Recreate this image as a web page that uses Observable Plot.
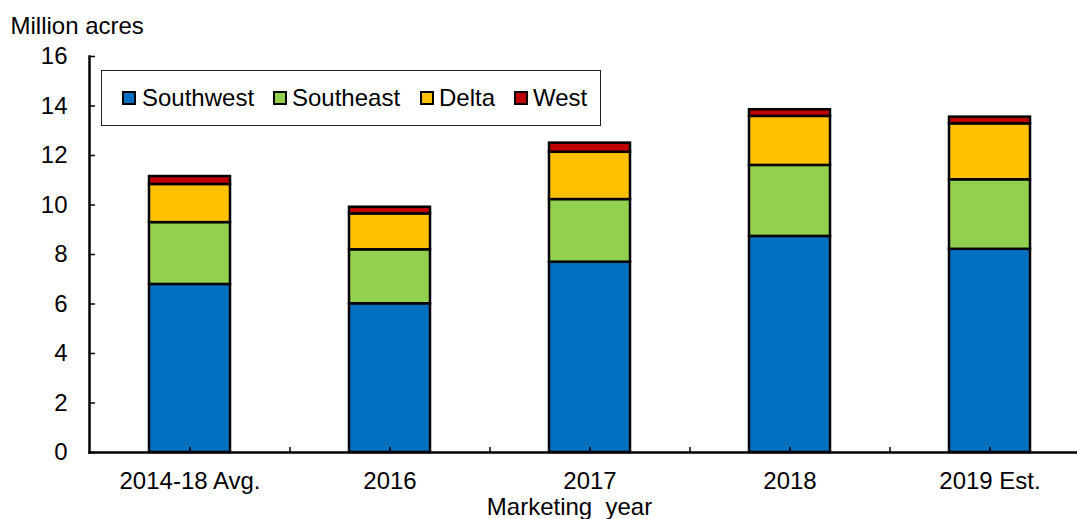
<!DOCTYPE html>
<html>
<head>
<meta charset="utf-8">
<script src="https://cdn.jsdelivr.net/npm/d3@7"></script>
<script src="https://cdn.jsdelivr.net/npm/@observablehq/plot@0.6"></script>
<style>
  html, body { margin: 0; padding: 0; background: white; }
  #chart { width: 1077px; height: 519px; overflow: hidden; }
</style>
</head>
<body>
<div id="chart"></div>
<script>
// ---- Data (million acres) ----
const years = ["2014-18 Avg.", "2016", "2017", "2018", "2019 Est."];
const regions = ["Southwest", "Southeast", "Delta", "West"];
const southwest = [6.79, 6.01, 7.69, 8.73, 8.21];
const southeast = [2.50, 2.18, 2.53, 2.87, 2.81];
const delta = [1.54, 1.45, 1.91, 1.98, 2.26];
const west = [0.32, 0.27, 0.37, 0.27, 0.27];
const yTicks = [0, 2, 4, 6, 8, 10, 12, 14, 16];
const colors = ["#0070C0", "#92D050", "#FFC000", "#C00000"];
const yTitle = "Million acres";
const xTitle = "Marketing  year";

const series = [southwest, southeast, delta, west];
const data = [];
years.forEach((yr, i) => {
  regions.forEach((r, j) => data.push({year: yr, region: r, value: series[j][i]}));
});

const FONT = "'Liberation Sans', Arial, sans-serif";
const FS = 24;
const W = 1077, H = 519, ML = 89, MT = 56, MB = 67;
const frameW = W - ML, frameH = H - MT - MB;

const svg = Plot.plot({
  width: W,
  height: H,
  marginLeft: ML,
  marginTop: MT,
  marginBottom: MB,
  marginRight: 0,
  style: {fontFamily: FONT, fontSize: FS + "px", color: "black", background: "white"},
  x: {domain: years, range: [89, 1089], paddingInner: 0.595, paddingOuter: 0.2975, label: null},
  y: {domain: [0, 16], label: null},
  color: {domain: regions, range: colors},
  marks: [
    Plot.barY(data, {x: "year", y: "value", fill: "region", stroke: "black", strokeWidth: 2.5, order: regions}),
    Plot.axisY({ticks: yTicks, tickSize: 0, tickPadding: 22, label: null}),
    Plot.axisX({tickSize: 0, tickPadding: 19, label: null}),
    // inward tick marks
    Plot.ruleY(yTicks, {y: d => d, insetRight: frameW - 6, stroke: "black", strokeWidth: 1.5}),
    Plot.ruleX(years, {x: d => d, insetTop: frameH - 5, stroke: "black", strokeWidth: 1.5}),
    Plot.ruleX(years, {x: d => d, dx: 100, insetTop: frameH - 5, stroke: "black", strokeWidth: 1.5}),
    Plot.frame({anchor: "left", strokeWidth: 2.5}),
    Plot.frame({anchor: "bottom", strokeWidth: 2.5}),
    Plot.text([yTitle], {frameAnchor: "top-left", textAnchor: "start", lineAnchor: "middle", dx: -79, dy: -30, fontSize: FS}),
    Plot.text([xTitle], {frameAnchor: "bottom", textAnchor: "middle", lineAnchor: "middle", dx: -14, dy: 55, fontSize: FS})
  ]
});

// ---- Legend (boxed, inside plot area) ----
const g = d3.select(svg).append("g")
  .attr("font-family", FONT).attr("font-size", FS).attr("text-anchor", "start");
g.append("rect").attr("x", 101.5).attr("y", 70.5).attr("width", 499).attr("height", 55)
  .attr("fill", "white").attr("stroke", "#222").attr("stroke-width", 1);
const swX = [123, 274, 421, 515];
const txX = [142, 292, 439, 533];
regions.forEach((r, i) => {
  g.append("rect").attr("x", swX[i]).attr("y", 92).attr("width", 12).attr("height", 12)
    .attr("fill", colors[i]).attr("stroke", "black").attr("stroke-width", 2);
  g.append("text").attr("x", txX[i]).attr("y", 106).attr("fill", "black")
    .attr("text-anchor", "start").text(r);
});

document.getElementById("chart").appendChild(svg);
</script>
</body>
</html>
